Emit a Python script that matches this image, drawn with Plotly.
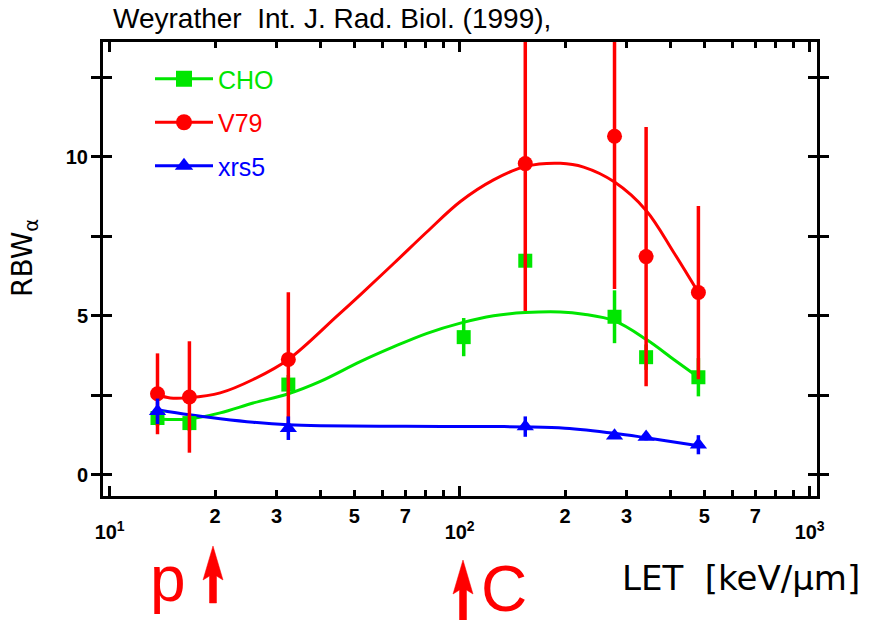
import plotly.graph_objects as go

# ---------------- data ----------------
cho_let = [13.7, 16.9, 32.4, 102.7, 154, 277, 341, 481]
cho_rbw = [1.79, 1.63, 2.84, 4.33, 6.73, 4.97, 3.70, 3.07]
cho_err = [0.25, 0.25, 0.3, 0.6, 0.0, 0.83, 0.4, 0.6]

v79_let = [13.7, 16.9, 32.4, 154, 277, 341, 481]
v79_rbw = [2.55, 2.45, 3.63, 9.78, 10.64, 6.86, 5.73]
v79_err = [1.27, 1.75, 2.11, 4.63, 4.8, 4.07, 2.72]

xrs5_let = [13.7, 32.4, 154, 277, 341, 481]
xrs5_rbw = [2.0, 1.47, 1.52, 1.23, 1.19, 0.95]
xrs5_err = [0.4, 0.37, 0.32, 0.1, 0.1, 0.3]

# fitted curves
cho_fit_let = [13.7, 16.9, 20.7, 25.7, 32.4, 40, 52, 64.9, 80.7, 100.5, 125, 154, 194, 226, 277, 341, 409, 481]
cho_fit = [1.76, 1.76, 1.95, 2.26, 2.55, 2.94, 3.56, 4.03, 4.45, 4.77, 5.0, 5.10, 5.12, 5.05, 4.84, 4.26, 3.63, 3.07]

v79_fit_let = [13.7, 14.9, 16.9, 20.7, 25.7, 32.4, 44.6, 52, 64.9, 80.7, 100.5, 125, 154, 194, 226, 277, 341, 409, 481]
v79_fit = [2.52, 2.42, 2.43, 2.58, 3.0, 3.63, 4.99, 5.66, 6.65, 7.64, 8.59, 9.27, 9.69, 9.79, 9.67, 9.2, 8.31, 6.99, 5.73]

xrs5_fit_let = [13.7, 16.9, 20.7, 25.7, 32.4, 40, 70, 131, 154, 200, 277, 341, 481]
xrs5_fit = [2.05, 1.89, 1.77, 1.66, 1.58, 1.55, 1.53, 1.52, 1.51, 1.47, 1.31, 1.17, 0.92]

series_names = ["CHO", "V79", "xrs5"]
y_tick_vals = [0, 2.5, 5, 7.5, 10, 12.5]
y_tick_text = ["0", "", "5", "", "10", ""]
x_minor_vals = [20, 30, 40, 50, 60, 70, 80, 90, 200, 300, 400, 500, 600, 700, 800, 900]
x_minor_text = ["2", "3", "", "5", "", "7", "", "", "2", "3", "", "5", "", "7", "", ""]
x_major_vals = [10, 100, 1000]
x_major_text = ["10<sup>1</sup>", "10<sup>2</sup>", "10<sup>3</sup>"]

GREEN = "#00e600"
RED = "#ff0000"
BLUE = "#0000ff"

# figure geometry (pixels)
W, H = 869, 620
L, R, T, B = 103, 817, 42, 496


def px(xp):
    return (xp - L) / (R - L)


def py(yp):
    return (B - yp) / (B - T)


def path_from_px(points):
    parts = []
    for i, (xp, yp) in enumerate(points):
        parts.append(("M" if i == 0 else "L") + f"{px(xp):.5f},{py(yp):.5f}")
    return " ".join(parts) + " Z"


fig = go.Figure()

# fitted curves
for xs, ys, col in [(cho_fit_let, cho_fit, GREEN), (v79_fit_let, v79_fit, RED), (xrs5_fit_let, xrs5_fit, BLUE)]:
    fig.add_trace(go.Scatter(x=xs, y=ys, mode="lines", line=dict(color=col, width=3, shape="spline", smoothing=1),
                             showlegend=False, hoverinfo="skip"))

# data points with error bars
fig.add_trace(go.Scatter(x=cho_let, y=cho_rbw, mode="markers", showlegend=False,
                         marker=dict(symbol="square", size=14, color=GREEN),
                         error_y=dict(type="data", array=cho_err, width=0, thickness=3.5, color=GREEN)))
fig.add_trace(go.Scatter(x=v79_let, y=v79_rbw, mode="markers", showlegend=False,
                         marker=dict(symbol="circle", size=15, color=RED),
                         error_y=dict(type="data", array=v79_err, width=0, thickness=3.5, color=RED)))
fig.add_trace(go.Scatter(x=xrs5_let, y=xrs5_rbw, mode="markers", showlegend=False,
                         marker=dict(symbol="triangle-up", size=15, color=BLUE),
                         error_y=dict(type="data", array=xrs5_err, width=0, thickness=3.5, color=BLUE)))

# invisible trace so the decade axis (x2) is drawn
fig.add_trace(go.Scatter(x=xrs5_let, y=xrs5_rbw, xaxis="x2", mode="markers", marker=dict(opacity=0),
                         showlegend=False, hoverinfo="skip"))

# legend entries
for name, sym, col in zip(series_names, ["square", "circle", "triangle-up"], [GREEN, RED, BLUE]):
    fig.add_trace(go.Scatter(x=[None], y=[None], mode="lines+markers", name=f'<span style="color:{col}">{name}</span>',
                             legendgroup=name,
                             line=dict(color=col, width=3), marker=dict(symbol=sym, size=20, color=col)))

axis_common = dict(showline=True, linewidth=3, linecolor="black", mirror="allticks", ticks="inside",
                   tickcolor="black", tickwidth=2.5, showgrid=False, zeroline=False)
tick_font = dict(family="Liberation Sans", size=20, color="black", weight="bold")

fig.update_layout(
    width=W, height=H,
    margin=dict(l=L, r=W - R, t=T, b=H - B),
    paper_bgcolor="white", plot_bgcolor="white",
    showlegend=True,
    legend=dict(x=px(150), y=py(56), xanchor="left", yanchor="top", bgcolor="rgba(0,0,0,0)",
                font=dict(family="Liberation Sans", size=25), tracegroupgap=8, itemwidth=58),
    xaxis=dict(type="log", range=[0.981, 3.021], tickvals=x_minor_vals, ticktext=x_minor_text, ticklen=6,
               tickfont=tick_font, ticklabelstandoff=0, **axis_common),
    xaxis2=dict(type="log", range=[0.981, 3.021], overlaying="x", anchor="y", side="bottom",
                tickvals=x_major_vals, ticktext=x_major_text, ticks="inside", ticklen=10, tickwidth=2.5,
                tickcolor="black", mirror="allticks", showline=False, showgrid=False, zeroline=False,
                tickfont=tick_font, ticklabelstandoff=22),
    yaxis=dict(range=[-0.66, 13.6], tickvals=y_tick_vals, ticktext=y_tick_text, ticklen=9,
               tickfont=tick_font, ticklabelstandoff=8, **axis_common),
)

annotations = [
    dict(text="Weyrather  Int. J. Rad. Biol. (1999),", x=px(111), y=py(19), xanchor="left", yanchor="middle",
         font=dict(family="Liberation Sans", size=28, color="black")),
    dict(text="RBW<sub>α</sub>", x=px(24), y=py(258), textangle=-90, xanchor="center", yanchor="middle",
         font=dict(family="DejaVu Sans", size=28, color="black")),
    dict(text="LET  [keV/µm]", x=px(620), y=py(578), xanchor="left", yanchor="middle",
         font=dict(family="DejaVu Sans", size=34, color="black")),
    dict(text="p", x=px(168), y=py(579), xanchor="center", yanchor="middle",
         font=dict(family="Liberation Sans", size=64, color=RED)),
    dict(text="C", x=px(504), y=py(589), xanchor="center", yanchor="middle",
         font=dict(family="Liberation Sans", size=64, color=RED)),
]
for a in annotations:
    a.setdefault("xref", "paper")
    a.setdefault("yref", "paper")
    a.setdefault("showarrow", False)
fig.update_layout(annotations=annotations)

# the two red arrows under the axis (decoration, in pixel positions)
p_arrow = [(213, 546), (223, 580), (216.5, 576), (216.5, 603), (209.5, 603), (209.5, 576), (203, 580)]
c_arrow = [(463, 560), (473, 594), (466.5, 590), (466.5, 622), (459.5, 622), (459.5, 590), (453, 594)]
for pts in (p_arrow, c_arrow):
    fig.add_shape(type="path", xref="paper", yref="paper", path=path_from_px(pts),
                  fillcolor=RED, line=dict(color=RED, width=0.5), layer="above")

fig.write_html("out.html", config={"displayModeBar": False},
               post_script="document.body.style.margin='0';")
